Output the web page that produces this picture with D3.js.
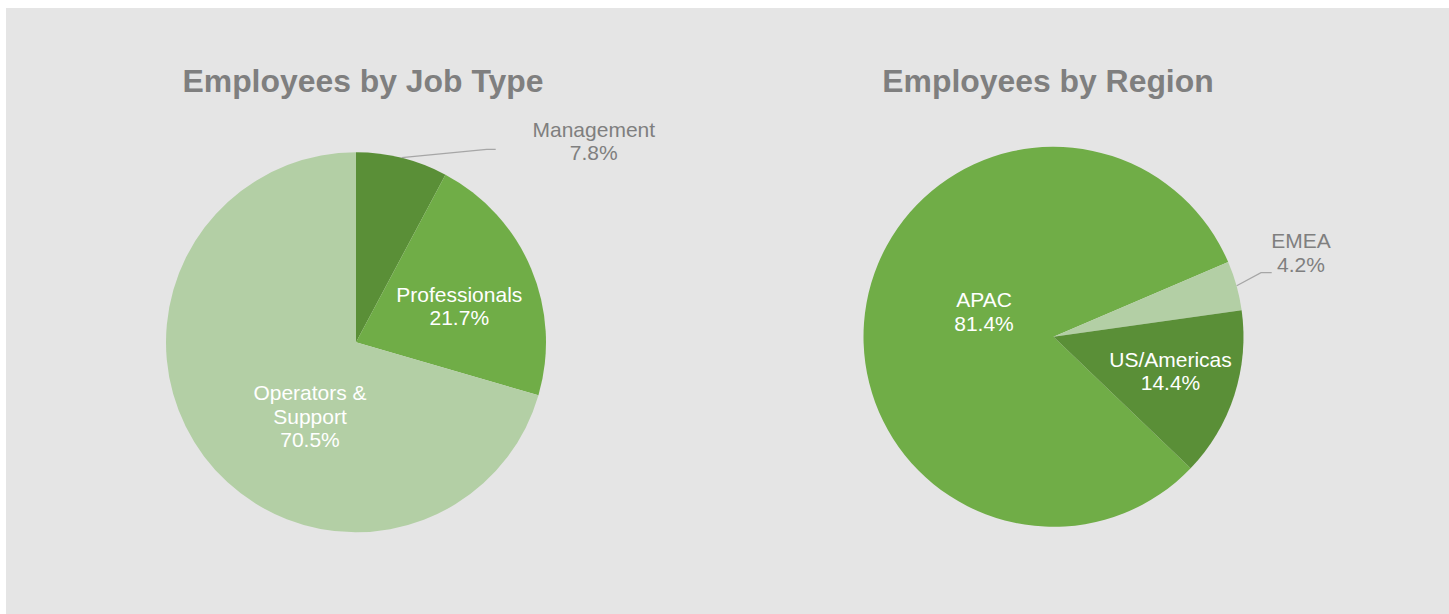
<!DOCTYPE html>
<html><head><meta charset="utf-8">
<script src="https://cdn.jsdelivr.net/npm/d3@7/dist/d3.min.js"></script>
<style>html,body{margin:0;padding:0;background:#fff;}svg{display:block;}</style>
</head><body>
<svg id="c" width="1449" height="614"></svg>
<script>
// Data
const jobCategories = ["Management", "Professionals", "Operators & Support"];
const jobValues = [7.8, 21.7, 70.5];
const regionCategories = ["APAC", "EMEA", "US/Americas"];
const regionValues = [81.4, 4.2, 14.4];
const titles = ["Employees by Job Type", "Employees by Region"];

// Styles / layout
const colors = {dark: "#5a8f37", mid: "#70ad47", light: "#b3cfa5"};
const jobColors = [colors.dark, colors.mid, colors.light];
const regionColors = [colors.mid, colors.light, colors.dark];
const svg = d3.select("#c");
svg.append("rect").attr("x", 6).attr("y", 8).attr("width", 1449 - 6).attr("height", 614 - 8).attr("fill", "#e5e5e5");

const fontFam = "Liberation Sans, Arial, Helvetica, sans-serif";
const lineH = 23.6;

const charts = [
  {title: titles[0], titleX: 363, cx: 356, cy: 342.3, r: 190, start: 0,
   cats: jobCategories, vals: jobValues, cols: jobColors,
   labels: [
     {x: 593.8, y: 136.7, outside: true, leader: [[401.7, 157.7], [486.7, 149.3], [495.7, 149.3]], lines: ["Management"]},
     {x: 459.3, y: 301.7, lines: ["Professionals"]},
     {x: 310, y: 400, lines: ["Operators &", "Support"]}
   ]},
  {title: titles[1], titleX: 1048, cx: 1053.5, cy: 336.8, r: 190, start: 133.8,
   cats: regionCategories, vals: regionValues, cols: regionColors,
   labels: [
     {x: 984, y: 307.3, lines: ["APAC"]},
     {x: 1301, y: 248.3, outside: true, leader: [[1236.7, 285.7], [1261, 272.7], [1271.7, 272.7]], lines: ["EMEA"]},
     {x: 1170.5, y: 366.7, lines: ["US/Americas"]}
   ]}
];

charts.forEach(ch => {
  svg.append("text").attr("x", ch.titleX).attr("y", 91.5).attr("text-anchor", "middle")
    .attr("font-family", fontFam).attr("font-weight", "bold").attr("font-size", 31.9)
    .attr("fill", "#7f7f7f").text(ch.title);

  const pie = d3.pie().sort(null).value(d => d)
    .startAngle(ch.start * Math.PI / 180).endAngle(ch.start * Math.PI / 180 + 2 * Math.PI);
  const arcs = pie(ch.vals);
  const arc = d3.arc().innerRadius(0).outerRadius(ch.r);
  const g = svg.append("g").attr("transform", `translate(${ch.cx},${ch.cy})`);
  g.selectAll("path").data(arcs).join("path")
    .attr("d", arc).attr("fill", (d, i) => ch.cols[i]);

  ch.labels.forEach((lb, i) => {
    if (lb.leader) {
      svg.append("path").attr("d", d3.line()(lb.leader)).attr("fill", "none")
        .attr("stroke", "#a6a6a6").attr("stroke-width", 1.3);
    }
    const lines = lb.lines.concat([ch.vals[i].toFixed(1) + "%"]);
    const t = svg.append("text").attr("text-anchor", "middle").attr("font-family", fontFam)
      .attr("font-size", 21).attr("fill", lb.outside ? "#7f7f7f" : "#ffffff");
    lines.forEach((s, k) => {
      t.append("tspan").attr("x", lb.x).attr("y", lb.y + k * lineH).text(s);
    });
  });
});
</script>
</body></html>
